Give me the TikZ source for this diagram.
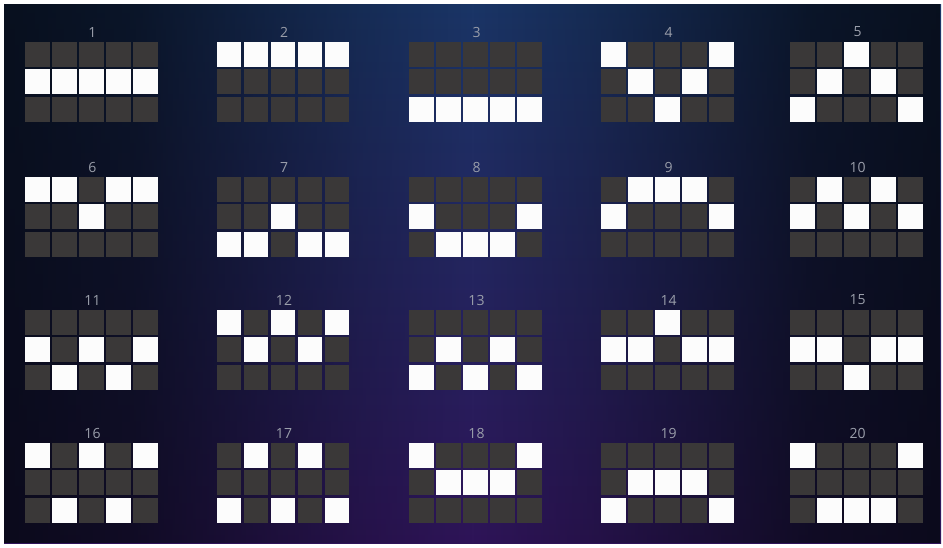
\documentclass[tikz,border=0pt]{standalone}
\usepackage{fontspec}
\setmainfont{Open Sans}
\usetikzlibrary{fadings}
\definecolor{cellgray}{HTML}{3A3838}
\definecolor{cellwhite}{HTML}{FCFCFC}
\definecolor{numgray}{HTML}{9A9EAA}
\definecolor{bgtop}{HTML}{1A3566}
\definecolor{bgbot}{HTML}{2E1458}
\definecolor{bgedge}{HTML}{04080F}
\pgfdeclarehorizontalshading{edgeshade}{100bp}{color(0bp)=(white); color(18bp)=(white!95!black); color(32bp)=(white!70!black); color(44bp)=(white!20!black); color(50bp)=(black); color(56bp)=(white!20!black); color(68bp)=(white!70!black); color(82bp)=(white!95!black); color(100bp)=(white)}
\pgfdeclarefading{edgefade}{\pgfuseshading{edgeshade}}
\tikzset{
  celloff/.style={fill=cellgray},
  cellon/.style={fill=cellwhite},
  numlabel/.style={text=numgray, font=\fontsize{14}{14}\selectfont, inner sep=0pt}
}
\begin{document}
\begin{tikzpicture}[x=1pt,y=-1pt]
\useasboundingbox (0,0) rectangle (943,547);
\fill[white] (0,0) rectangle (943,547);
\shade[top color=bgtop, bottom color=bgbot] (4,4) rectangle (941,543);
\fill[bgedge, path fading=edgefade, fit fading=true] (4,4) rectangle (941,543);
\foreach \n/\gx/\gy/\a/\b/\c/\d/\e in {
1/25/42/1/1/1/1/1, 2/216.5/42/0/0/0/0/0, 3/409/42/2/2/2/2/2, 4/601/42/0/1/2/1/0, 5/790/42/2/1/0/1/2,
6/25/177/0/0/1/0/0, 7/216.5/177/2/2/1/2/2, 8/409/177/1/2/2/2/1, 9/601/177/1/0/0/0/1, 10/790/177/1/0/1/0/1,
11/25/310/1/2/1/2/1, 12/216.5/310/0/1/0/1/0, 13/409/310/2/1/2/1/2, 14/601/310/1/1/0/1/1, 15/790/310/1/1/2/1/1,
16/25/443/0/2/0/2/0, 17/216.5/443/2/0/2/0/2, 18/409/443/0/1/1/1/0, 19/601/443/2/1/1/1/2, 20/790/443/0/2/2/2/0}
{
  \node[numlabel] (num\n) at (\gx+67.5, \gy-10) {\n};
  \foreach \r [count=\col from 0] in {\a,\b,\c,\d,\e} {
    \foreach \row in {0,1,2} {
      \ifnum\row=\r\relax \def\cc{cellon}\else \def\cc{celloff}\fi
      \fill[\cc] (\gx+\col*27.1, \gy+\row*27.3) rectangle ++(24.5,25);
    }
  }
}
\end{tikzpicture}
\end{document}
